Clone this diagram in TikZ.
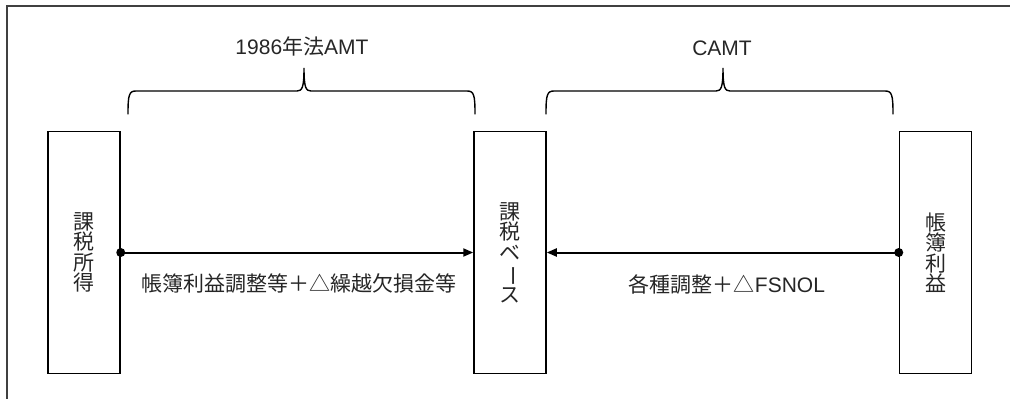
\documentclass[tikz,border=0pt]{standalone}
\usepackage{fontspec}
\usepackage{graphicx}
\setmainfont{Liberation Sans}
\newfontfamily\jp{Noto Sans CJK JP}
\usetikzlibrary{arrows.meta}
\tikzset{
  box/.style={draw=black, line width=1.5pt, minimum width=72pt, minimum height=242pt, inner sep=0pt, font=\jp\fontsize{21}{20.5}\selectfont, align=center, text=black!85},
  conn/.style={line width=2pt, -{Triangle[length=10pt,width=8pt]}},
  brace/.style={line width=1.4pt, line cap=round},
  lab/.style={inner sep=0pt, text=black!85, font=\fontsize{21}{25}\selectfont},
  frame/.style={draw=black!75, line width=1.5pt}
}
\begin{document}
\begin{tikzpicture}[x=1pt,y=-1pt]
\useasboundingbox (0,0) rectangle (1010,399);
\draw[frame] (7,399) -- (7,6) -- (1010,6);
\node[box] (lbox) at (84,252.5) {課\\税\\所\\得};
\node[box] (mbox) at (510,252.5) {課\\税\\ベ\\\rotatebox[origin=c]{-90}{ー}\\ス};
\node[box] (rbox) at (935.5,252.5) {帳\\簿\\利\\益};
\draw[conn] (lbox.east) -- (mbox.west);
\draw[conn] (rbox.west) -- (mbox.east);
\fill (lbox.east) circle (4.5pt);
\fill (rbox.west) circle (4.5pt);
\node[lab] (l1) at (299,283) {\jp 帳簿利益調整等＋△繰越欠損金等};
\node[lab] (l2) at (727,284) {{\jp 各種調整＋△}FSNOL};
\node[lab] (t1) at (302,46) {1986{\jp 年法}AMT};
\node[lab] (t2) at (722,48) {CAMT};
\draw[brace] (128,114) .. controls (128,95) and (129,91) .. (136,91) -- (297,91) .. controls (302,91) and (304,88) .. (304,68) .. controls (304,88) and (306,91) .. (311,91) -- (467,91) .. controls (474,91) and (475,95) .. (475,114);
\draw[brace] (546,114) .. controls (546,95) and (547,91) .. (554,91) -- (716,91) .. controls (721,91) and (723,88) .. (723,68) .. controls (723,88) and (725,91) .. (730,91) -- (885,91) .. controls (892,91) and (893,95) .. (893,114);
\end{tikzpicture}
\end{document}
